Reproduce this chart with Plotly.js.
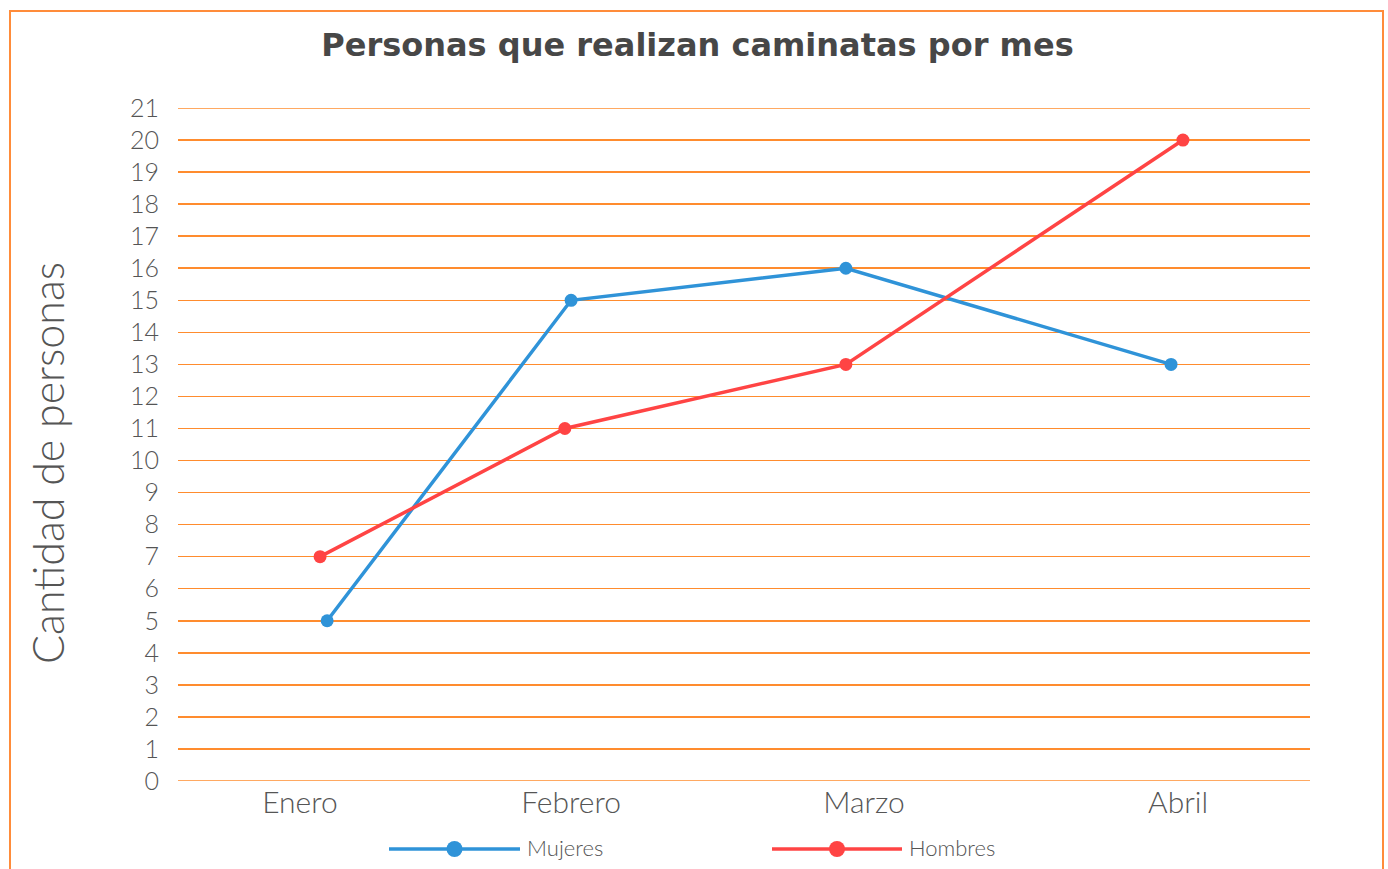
<!DOCTYPE html>
<html>
<head>
<meta charset="utf-8">
<script src="https://cdn.plot.ly/plotly-3.0.1.min.js"></script>
<style>
  html, body { margin: 0; padding: 0; background: #ffffff; overflow: hidden; }
  #frame { position: absolute; left: 9px; top: 10px; width: 1375px; height: 880px; border: 2px solid #FF8C3A; box-sizing: border-box; pointer-events: none; z-index: 2; }
  #chart { position: absolute; left: 0; top: 0; width: 1388px; height: 869px; }
</style>
</head>
<body>
<div id="chart"></div>
<div id="frame"></div>
<script>
// Month labels and where each label sits along the x axis (category units)
const months = ["Enero", "Febrero", "Marzo", "Abril"];
const monthTickPos = [0.431, 1.389, 2.424, 3.534];

// Series values (people per month)
const mujeresX = [0.527, 1.389, 2.360, 3.509];
const mujeresY = [5, 15, 16, 13];
const hombresX = [0.502, 1.367, 2.360, 3.551];
const hombresY = [7, 11, 13, 20];

const yTicks = [0,1,2,3,4,5,6,7,8,9,10,11,12,13,14,15,16,17,18,19,20,21];
const yMin = 0, yMax = 21;

const blue = "#2F93D8";
const red = "#FF4444";
const orange = "#FF8C2E";
const fontMain = "'Century Gothic', 'DejaVu Sans', sans-serif";
const fontThin = "'Century Gothic', Lato, 'DejaVu Sans', sans-serif";

const traces = [
  { x: mujeresX, y: mujeresY, name: "Mujeres", type: "scatter", mode: "lines+markers",
    line: { color: blue, width: 3.5 }, marker: { color: blue, size: 13 }, showlegend: false },
  { x: hombresX, y: hombresY, name: "Hombres", type: "scatter", mode: "lines+markers",
    line: { color: red, width: 3.5 }, marker: { color: red, size: 13 }, showlegend: false }
];

const W = 1388, H = 869, L = 178, R = 78, T = 108, B = 88;
const pw = W - L - R, ph = H - T - B;
const px = v => (v - L) / pw;
const py = v => (H - B - v) / ph;

const shapes = [];
const annotations = [];

// Edge gridlines (bottom and top of the value range)
[yMin, yMax].forEach(v => {
  shapes.push({ type: "line", xref: "paper", yref: "y", x0: 0, x1: 1, y0: v, y1: v,
    line: { color: orange, width: 1.5 }, layer: "below" });
});

// Custom legend (long line with marker in the middle + label)
const legendItems = [
  { name: "Mujeres", color: blue, x0: 389, x1: 520 },
  { name: "Hombres", color: red, x0: 772, x1: 902 }
];
const legY = 849;
legendItems.forEach(it => {
  shapes.push({ type: "line", xref: "paper", yref: "paper", x0: px(it.x0), x1: px(it.x1), y0: py(legY), y1: py(legY),
    line: { color: it.color, width: 3.5 } });
  const cx = (it.x0 + it.x1) / 2;
  shapes.push({ type: "circle", xref: "paper", yref: "paper", x0: px(cx - 8), x1: px(cx + 8), y0: py(legY - 8), y1: py(legY + 8),
    fillcolor: it.color, line: { color: it.color, width: 0 } });
  annotations.push({ text: it.name, xref: "paper", yref: "paper", x: px(it.x1 + 5), y: py(legY - 2),
    xanchor: "left", yanchor: "middle", showarrow: false,
    font: { family: fontThin, size: 22, weight: 300, color: "#555555" } });
});

// Y axis title
annotations.push({ text: "Cantidad de personas", xref: "paper", yref: "paper", x: px(47), y: py(463),
  xanchor: "center", yanchor: "middle", textangle: -90, showarrow: false,
  font: { family: fontThin, size: 43, weight: 300, color: "#555555" } });

const layout = {
  width: W, height: H,
  margin: { l: L, r: R, t: T, b: B },
  paper_bgcolor: "#ffffff", plot_bgcolor: "#ffffff",
  title: { text: "<b>Personas que realizan caminatas por mes</b>", x: 0.5025, xanchor: "center", y: 0.948, yanchor: "middle",
    font: { family: fontMain, size: 32, color: "#474747" } },
  xaxis: { range: [0, 4], tickmode: "array", tickvals: monthTickPos, ticktext: months,
    showgrid: false, zeroline: false, showline: false, ticks: "", ticklabelstandoff: 1,
    tickfont: { family: fontThin, size: 30, weight: 300, color: "#555555" }, fixedrange: true },
  yaxis: { range: [yMin, yMax], tickmode: "array", tickvals: yTicks, ticktext: yTicks.map(String),
    showgrid: true, gridcolor: orange, gridwidth: 1.5, zeroline: false, showline: false, ticks: "",
    ticklabelstandoff: 18,
    tickfont: { family: fontThin, size: 25, weight: 300, color: "#555555" },
    fixedrange: true },
  shapes: shapes,
  annotations: annotations,
  showlegend: false
};

Plotly.newPlot("chart", traces, layout, { displayModeBar: false, staticPlot: true });
</script>
</body>
</html>
